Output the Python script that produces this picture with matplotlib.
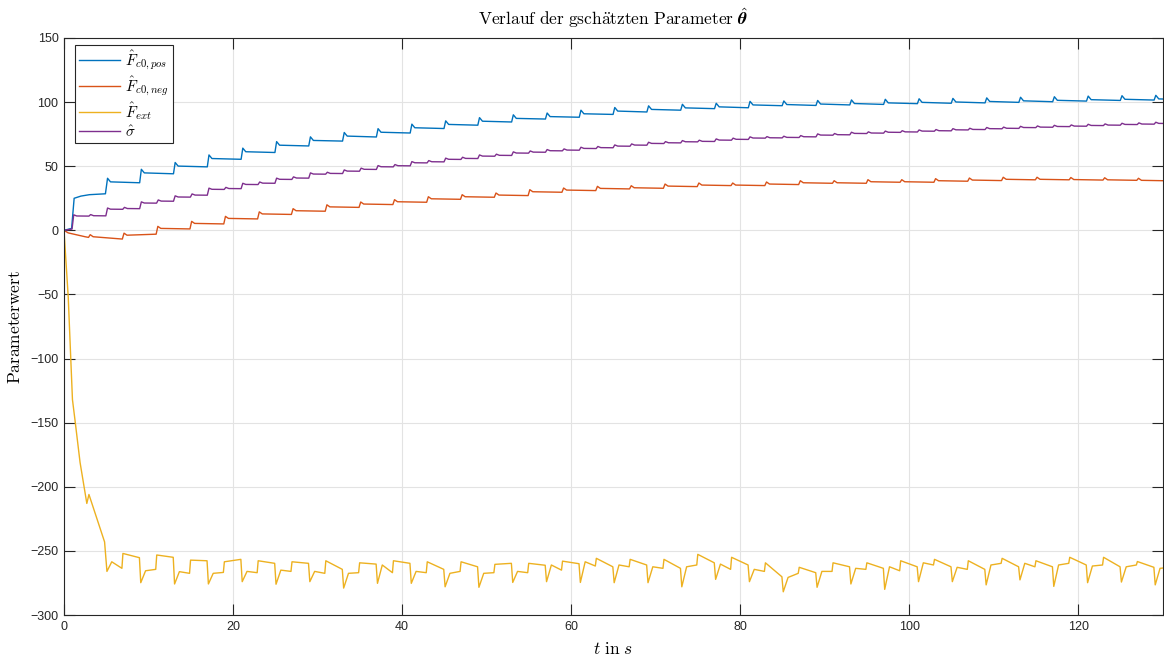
import numpy as np
import matplotlib
matplotlib.use("Agg")
import matplotlib.pyplot as plt
from matplotlib.ticker import MultipleLocator

plt.rcParams['mathtext.fontset'] = 'cm'
plt.rcParams['font.family'] = ['Liberation Sans', 'DejaVu Sans']

# ---------------------------------------------------------------- data
PERIOD = 4.0          # excitation period in s
T_MAX = 130.0

# F_c0,pos : start-up samples, then level after each step (t = 4k+1, k = 1..32)
pos_t0 = [0.0, 0.9, 1.2, 2.0, 3.0, 4.9]
pos_v0 = [0.0, 1.5, 25.0, 26.7, 27.8, 28.5]
pos_start = [37.8, 44.8, 50.1, 56.0, 61.3, 66.4, 70.1, 73.5, 76.5, 80.0, 82.6,
             85.1, 87.3, 88.7, 90.9, 93.0, 94.3, 95.5, 96.3, 97.8, 98.1, 98.5,
             98.9, 99.4, 99.8, 100.1, 100.5, 101.0, 101.4, 101.9, 102.2, 102.5]
pos_end = [37.1, 44.1, 49.5, 55.4, 60.7, 65.8, 69.6, 72.8, 75.9, 79.4, 82.0,
           84.5, 86.8, 88.2, 90.4, 92.3, 93.7, 94.9, 95.6, 97.2, 97.4, 97.8,
           98.2, 98.8, 99.1, 99.4, 99.8, 100.3, 100.8, 101.3, 101.6, 101.9]
pos_spike = 2.8

# F_c0,neg : start-up samples, then level after each step (t = 4j+2.95, j = 0..31)
neg_t0 = [0.0, 0.5, 1.5, 2.5, 2.9]
neg_v0 = [0.0, -2.0, -3.5, -5.0, -5.5]
neg_start = [-5.0, -3.8, 1.5, 5.4, 9.3, 12.8, 15.3, 18.3, 20.5, 22.3, 24.6,
             26.2, 27.5, 30.1, 31.4, 32.7, 33.2, 34.5, 35.3, 35.3, 36.1, 37.1,
             37.1, 37.9, 37.9, 38.7, 39.2, 39.8, 39.8, 39.6, 39.4, 39.0]
neg_end = [-6.8, -3.0, 1.1, 5.0, 8.9, 12.4, 14.9, 17.9, 20.1, 21.9, 24.2,
           25.8, 27.1, 29.7, 31.0, 32.3, 32.8, 34.1, 34.9, 34.9, 35.7, 36.7,
           36.7, 37.5, 37.5, 38.3, 38.8, 39.4, 39.4, 39.2, 39.0, 38.6]
neg_spike = 1.6

# sigma : level after each step (t = 2m+1, m = 0..64)
sig_t0 = [0.0, 0.95]
sig_v0 = [0.0, 1.0]
sig_level = [11.2, 11.4, 16.5, 17.0, 21.3, 22.8, 26.0, 27.5, 32.0, 32.6, 35.8,
             36.8, 39.8, 40.8, 43.9, 44.4, 46.2, 47.6, 49.6, 50.4, 52.7, 53.5,
             55.4, 56.1, 57.9, 58.5, 60.3, 61.0, 62.1, 62.6, 63.9, 64.5, 65.7,
             66.5, 67.8, 68.3, 69.1, 69.4, 70.4, 71.0, 72.0, 72.2, 72.5, 73.0,
             74.3, 74.6, 75.6, 75.9, 76.5, 76.8, 77.4, 77.7, 78.4, 78.7, 79.3,
             79.6, 80.2, 80.5, 81.0, 81.3, 81.8, 82.1, 82.6, 82.9, 83.4]
sig_spike = 0.9

# F_ext : start-up samples, then per period (t = 4k+1, k = 1..32):
# dip at the step, recovered value, value before the mid-period jump,
# value after that jump and value at the end of the period
ext_t0 = [0.0, 0.5, 1.0, 1.3, 1.9, 2.7, 2.95, 4.8]
ext_v0 = [0.0, -52.0, -132.0, -148.0, -181.0, -213.0, -206.0, -243.0]
ext_dip = [-266, -274.8, -275.8, -275.8, -274, -276, -274, -279, -275.3,
           -275.3, -278, -278.4, -274.6, -274, -274.6, -274.8, -274.8, -278,
           -272.2, -274, -281.9, -278.4, -275.8, -280, -274, -274, -276.5,
           -272.6, -277.7, -274.8, -274.3, -276.5]
ext_rise = [-258.5, -265.5, -266.2, -267.5, -266, -265, -266, -267.5, -261,
            -266, -267.5, -267.5, -266, -261, -258.5, -261, -262.4, -262.4,
            -260.3, -264.4, -270.7, -266, -263.6, -262.4, -259.3, -262.8,
            -261, -259.7, -261, -261.8, -262.4, -263.6]
ext_mid = [-263.6, -264.4, -267.5, -266.8, -267, -266, -267.5, -267, -267,
           -267, -266, -267, -267, -265, -261.8, -262.4, -263.6, -261, -264.4,
           -266, -267.5, -266, -264.4, -265.5, -261, -264.4, -259.7, -262.4,
           -259.7, -261, -261, -262.8]
ext_peak = [-252, -253.2, -257.2, -258.5, -257.7, -258.5, -257.7, -259.3,
            -257.7, -258.5, -258.5, -260.5, -259.7, -258, -255.8, -256.6,
            -256.6, -252.7, -255, -259.3, -262.8, -259.3, -259.3, -257.7,
            -256.6, -257.7, -255.8, -257.7, -255, -255, -258.3, -257]
ext_end = [-255.3, -255, -257.7, -256.6, -259.7, -259.7, -264.4, -260.3,
           -259.7, -264.4, -262.4, -259.7, -261.2, -260, -262.4, -261, -263.6,
           -259.3, -261, -270.2, -267, -262.4, -263.6, -262.4, -262.4, -264.4,
           -262.4, -262.4, -261, -262.4, -262.8, -261]

labels = [r'$\hat{F}_{c0,pos}$', r'$\hat{F}_{c0,neg}$', r'$\hat{F}_{ext}$',
          r'$\hat{\sigma}$']
colors = ['#0072BD', '#D95319', '#EDB120', '#7E2F8E']


# ---------------------------------------------------------------- curves
def stepped(t0, v0, steps, starts, ends, spike, length):
    """Piecewise trace: short overshoot at each step, then a slow drift."""
    t, v = list(t0), list(v0)
    for s, a, b in zip(steps, starts, ends):
        t += [s + 0.15, s + 0.5, s + length - 0.05]
        v += [a + spike, a, b]
    return np.array(t), np.array(v)


def external(t0, v0, steps, dip, rise, mid, peak, end):
    t, v = list(t0), list(v0)
    for s, d, r, m, p, e in zip(steps, dip, rise, mid, peak, end):
        t += [s + 0.08, s + 0.65, s + 1.85, s + 1.97, s + 3.92]
        v += [d, r, m, p, e]
    return np.array(t), np.array(v)


k_steps = 1.0 + PERIOD * np.arange(1, len(pos_start) + 1)
j_steps = 2.95 + PERIOD * np.arange(len(neg_start))
m_steps = 1.0 + 2.0 * np.arange(len(sig_level))

t_pos, v_pos = stepped(pos_t0, pos_v0, k_steps, pos_start, pos_end,
                       pos_spike, PERIOD)
t_neg, v_neg = stepped(neg_t0, neg_v0, j_steps, neg_start, neg_end,
                       neg_spike, PERIOD)
t_sig, v_sig = stepped(sig_t0, sig_v0, m_steps, sig_level,
                       [x - 0.1 for x in sig_level], sig_spike, 2.0)
t_ext, v_ext = external(ext_t0, ext_v0, k_steps, ext_dip, ext_rise,
                        ext_mid, ext_peak, ext_end)

# ---------------------------------------------------------------- figure
fig = plt.figure(figsize=(11.64, 6.60), dpi=100)
ax = fig.add_axes([64 / 1164, 1 - 615 / 660, 1099 / 1164, 577 / 660])

for (t, v), c, lab in zip([(t_pos, v_pos), (t_neg, v_neg), (t_ext, v_ext),
                           (t_sig, v_sig)], colors, labels):
    ax.plot(t, v, color=c, lw=1.0, label=lab)

ax.set_xlim(0, T_MAX)
ax.set_ylim(-300, 150)
ax.xaxis.set_major_locator(MultipleLocator(20))
ax.yaxis.set_major_locator(MultipleLocator(50))
ax.grid(True, color='#e3e3e3', lw=0.8)
ax.set_axisbelow(True)
for sp in ax.spines.values():
    sp.set_color('#262626')
    sp.set_linewidth(0.8)
ax.tick_params(direction='in', length=8, width=0.8, colors='#262626',
               labelsize=9, top=True, right=True, pad=4)

ax.set_title(r'$\mathrm{Verlauf\ der\ gsch\ddot{a}tzten\ Parameter}\ '
             r'\hat{\boldsymbol{\theta}}$', fontsize=12.5, pad=9)
ax.set_xlabel(r'$t\ \mathrm{in}\ s$', fontsize=12.5, labelpad=6)
ax.set_ylabel(r'$\mathrm{Parameterwert}$', fontsize=12.5, labelpad=5)

leg = ax.legend(loc='upper left', bbox_to_anchor=(11 / 1099, 1 - 7 / 577),
                borderaxespad=0, fontsize=11, handlelength=2.7,
                labelspacing=0.15, handletextpad=0.35, borderpad=0.25,
                fancybox=False, framealpha=1, edgecolor='#262626')
leg.get_frame().set_linewidth(0.8)

fig.savefig('out.png', dpi=100)
